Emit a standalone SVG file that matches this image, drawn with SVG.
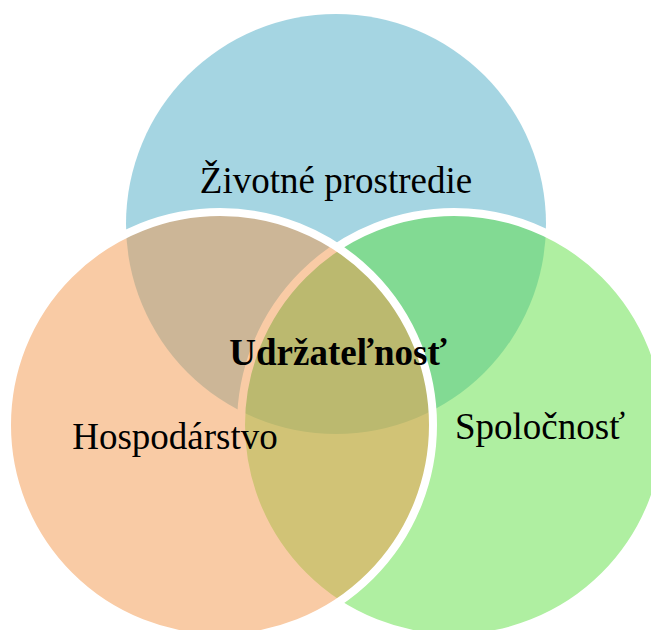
<svg xmlns="http://www.w3.org/2000/svg" width="651" height="630" viewBox="0 0 651 630">
<style>
.lbl{font-family:"Liberation Serif","Times New Roman",serif;font-size:37px;fill:#000;text-anchor:middle}
.b{font-weight:bold}
.c{fill-opacity:0.5}
.s{stroke:#fff;stroke-width:8}
</style>
<rect width="651" height="630" fill="#fff"/>
<g id="env"><circle class="c" cx="336" cy="224" r="210" fill="#4BABC5"/></g>
<g id="soc"><circle class="c s" cx="454" cy="425" r="213" fill="#5FDF43"/></g>
<g id="eco"><circle class="c s" cx="220" cy="425" r="213" fill="#F3974B"/></g>
<g id="labels">
<text class="lbl" x="336" y="193">Životné prostredie</text>
<text class="lbl" x="175" y="449">Hospodárstvo</text>
<text class="lbl" x="540" y="439">Spoločnosť</text>
<text class="lbl b" x="338" y="365">Udržateľnosť</text>
</g>
</svg>
